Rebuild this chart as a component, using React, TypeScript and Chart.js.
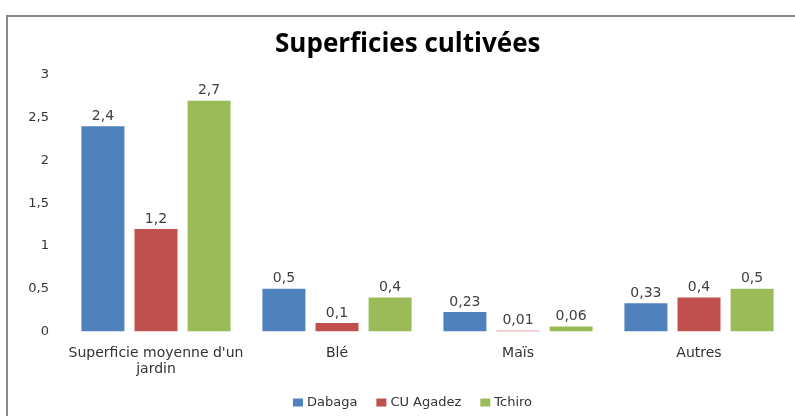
import React, { useEffect, useRef } from "react";
import { Chart, registerables } from "chart.js";

Chart.register(...registerables);

const categories: (string | string[])[] = [["Superficie moyenne d'un", "jardin"], "Blé", "Maïs", "Autres"];
const dabaga = [2.4, 0.5, 0.23, 0.33];
const cuAgadez = [1.2, 0.1, 0.01, 0.4];
const tchiro = [2.7, 0.4, 0.06, 0.5];
const seriesNames = ["Dabaga", "CU Agadez", "Tchiro"];
const seriesColors = ["#4F81BD", "#C0504D", "#9BBB59"];
const titleText = "Superficies cultivées";

const FONT = "'DejaVu Sans', sans-serif";
const TITLE_FONT = "'Open Sans', 'DejaVu Sans', sans-serif";

const fmt = (v: number) => String(v).replace(".", ",");

const valueLabels = {
  id: "valueLabels",
  afterDatasetsDraw(chart: any) {
    const ctx = chart.ctx;
    ctx.save();
    ctx.font = `14px ${FONT}`;
    ctx.fillStyle = "#404040";
    ctx.textAlign = "center";
    ctx.textBaseline = "bottom";
    chart.data.datasets.forEach((ds: any, i: number) => {
      const meta = chart.getDatasetMeta(i);
      meta.data.forEach((bar: any, j: number) => {
        ctx.fillText(fmt(ds.data[j]), bar.x, bar.y - 3);
      });
    });
    ctx.restore();
  },
};

const customLegend = {
  id: "customLegend",
  afterDraw(chart: any) {
    const ctx = chart.ctx;
    ctx.save();
    ctx.font = `13px ${FONT}`;
    ctx.textBaseline = "middle";
    ctx.textAlign = "left";
    const boxW = 10, boxH = 8, gapText = 4, gapItem = 19;
    const items = chart.data.datasets.map((ds: any) => ({
      label: ds.label,
      color: ds.backgroundColor,
      w: boxW + gapText + ctx.measureText(ds.label).width,
    }));
    const total = items.reduce((a: number, it: any) => a + it.w, 0) + gapItem * (items.length - 1);
    let x = 412.5 - total / 2;
    const cy = 402.5;
    items.forEach((it: any) => {
      ctx.fillStyle = it.color;
      ctx.fillRect(x, cy - boxH / 2, boxW, boxH);
      ctx.fillStyle = "#333";
      ctx.fillText(it.label, x + boxW + gapText, cy);
      x += it.w + gapItem;
    });
    ctx.restore();
  },
};

export default function App() {
  const ref = useRef<HTMLCanvasElement>(null);
  useEffect(() => {
    const data = [dabaga, cuAgadez, tchiro];
    const chart = new Chart(ref.current!, {
      type: "bar",
      data: {
        labels: categories,
        datasets: data.map((d, i) => ({
          label: seriesNames[i],
          data: d,
          backgroundColor: seriesColors[i],
          categoryPercentage: 0.88,
          barPercentage: 0.81,
        })),
      },
      options: {
        animation: false,
        responsive: false,
        layout: { padding: { left: 26, right: 5.5, top: 18, bottom: 25 } },
        plugins: {
          title: {
            display: true,
            text: titleText,
            color: "#000",
            font: { family: TITLE_FONT, size: 26, weight: "bold" },
            padding: { top: 11.4, bottom: 14.4 },
          },
          legend: { display: false },
          tooltip: { enabled: false },
        },
        scales: {
          x: {
            grid: { display: false, drawTicks: false },
            border: { display: false },
            ticks: {
              color: "#333",
              font: { family: FONT, size: 14, lineHeight: 1.1 },
              padding: 14.3,
              maxRotation: 0,
            },
          },
          y: {
            min: 0,
            max: 3,
            grid: { display: false, drawTicks: false },
            border: { display: false },
            afterFit: (s: any) => { s.width = 39.5; },
            ticks: {
              stepSize: 0.5,
              padding: 16.5,
              color: "#333",
              font: { family: FONT, size: 13 },
              callback: (v: any) => fmt(Number(v)),
            },
          },
        },
      },
      plugins: [valueLabels, customLegend],
    });
    return () => chart.destroy();
  }, []);
  return (
    <div style={{ position: "fixed", left: 0, top: 0, width: 795, height: 416, background: "#fff" }}>
      <div
        style={{
          position: "absolute",
          left: 6,
          top: 15,
          width: 800,
          height: 420,
          borderTop: "2px solid #8a8a8a",
          borderLeft: "2px solid #8a8a8a",
        }}
      />
      <canvas ref={ref} width={795} height={416} style={{ position: "absolute", left: 0, top: 0 }} />
    </div>
  );
}
